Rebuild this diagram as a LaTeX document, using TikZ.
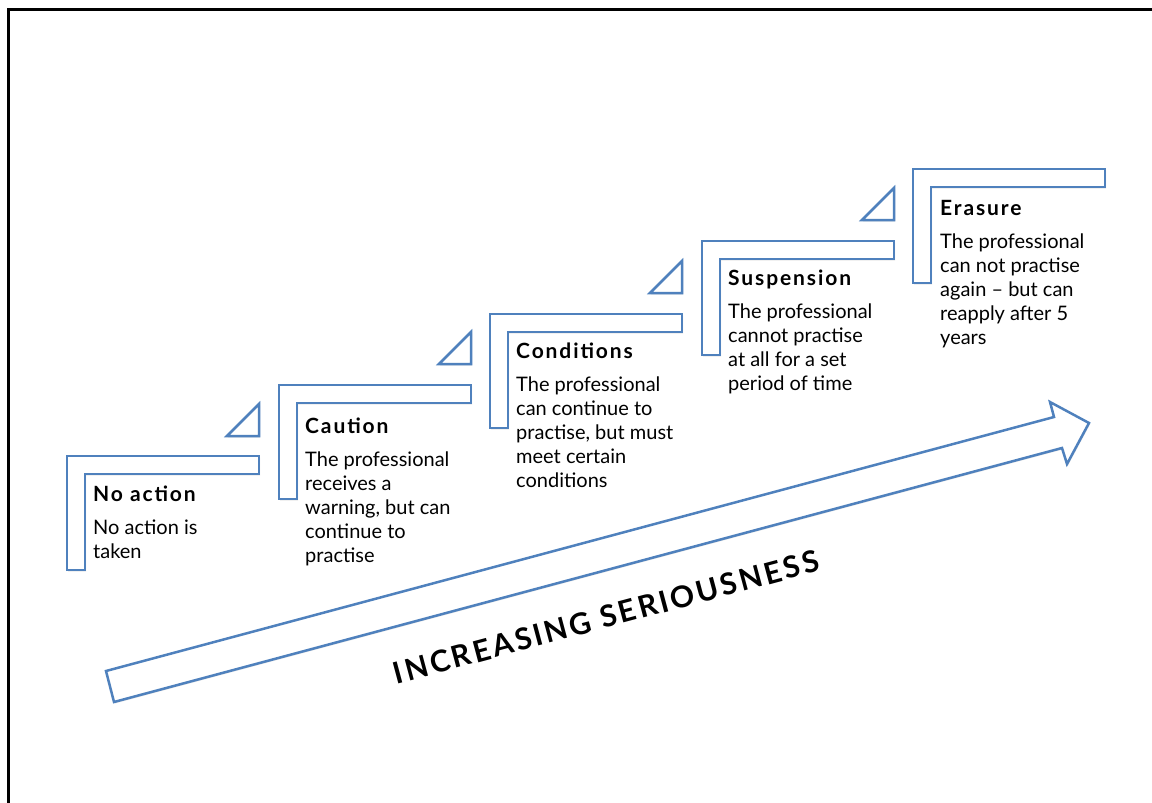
\documentclass[tikz,border=0pt]{standalone}
\usepackage{fontspec}
\setmainfont{Lato}
\usetikzlibrary{positioning,shadows}

\definecolor{stepblue}{RGB}{79,129,189}

\tikzset{
    stepline/.style = {draw = stepblue, fill = white, line width = 2.5pt, line join = miter,
                       drop shadow = {opacity = 0.18, shadow xshift = 1pt, shadow yshift = -1.5pt}},
    steptitle/.style = {font = \fontsize{21}{24}\selectfont\bfseries\addfontfeature{LetterSpace=9},
                        inner sep = 0pt, anchor = base west},
    stepbody/.style = {font = \fontsize{20}{24}\selectfont, align = left, inner sep = 0pt}
}

\begin{document}
\begin{tikzpicture} [x = 1pt, y = -1pt]
        \clip (0,0) rectangle (1152,803);
        \draw [line width = 3pt] (8,830) -- (8,9) -- (1180,9);

        % the big arrow
        \draw [stepline] (106,671) -- (1054,417) -- (1050,402) -- (1089,423)
            -- (1067,464) -- (1062,448) -- (114,702) -- cycle;
        \node [rotate = 15, inner sep = 0pt,
               font = \fontsize{30}{30}\selectfont\bfseries\addfontfeature{LetterSpace=9}]
            (serious) at (606,617) {INCREASING SERIOUSNESS};

        % steps
        \coordinate (s1) at (67,456);
        \coordinate (s2) at (279,385);
        \coordinate (s3) at (490,314);
        \coordinate (s4) at (702,241);
        \coordinate (s5) at (913,169);

        \draw [stepline] (s1) -- ++(192,0) -- ++(0,18) -- ++(-174,0) -- ++(0,96) -- ++(-18,0) -- cycle;
        \draw [stepline] (s2) -- ++(192,0) -- ++(0,18) -- ++(-174,0) -- ++(0,96) -- ++(-18,0) -- cycle;
        \draw [stepline] (s3) -- ++(192,0) -- ++(0,18) -- ++(-174,0) -- ++(0,96) -- ++(-18,0) -- cycle;
        \draw [stepline] (s4) -- ++(192,0) -- ++(0,18) -- ++(-174,0) -- ++(0,96) -- ++(-18,0) -- cycle;
        \draw [stepline] (s5) -- ++(192,0) -- ++(0,18) -- ++(-174,0) -- ++(0,96) -- ++(-18,0) -- cycle;

        \draw [stepline] (s1) ++(192,-20) -- ++(-32,0) -- ++(32,-32) -- cycle;
        \draw [stepline] (s2) ++(192,-21) -- ++(-32,0) -- ++(32,-32) -- cycle;
        \draw [stepline] (s3) ++(192,-21) -- ++(-32,0) -- ++(32,-32) -- cycle;
        \draw [stepline] (s4) ++(192,-21) -- ++(-32,0) -- ++(32,-32) -- cycle;

        % labels
        \node [steptitle] (t1) at (93,501) {No action};
        \node [steptitle] (t2) at (305,433) {Caution};
        \node [steptitle] (t3) at (516,358) {Conditions};
        \node [steptitle] (t4) at (728,285) {Suspension};
        \node [steptitle] (t5) at (940,215) {Erasure};

        \node [stepbody] (d1) [below right = 16pt and 0pt of t1.base west]
            {\strut No action is\\taken};
        \node [stepbody] (d2) [below right = 16pt and 0pt of t2.base west]
            {\strut The professional\\receives a\\warning, but can\\continue to\\practise};
        \node [stepbody] (d3) [below right = 16pt and 0pt of t3.base west]
            {\strut The professional\\can continue to\\practise, but must\\meet certain\\conditions};
        \node [stepbody] (d4) [below right = 16pt and 0pt of t4.base west]
            {\strut The professional\\cannot practise\\at all for a set\\period of time};
        \node [stepbody] (d5) [below right = 16pt and 0pt of t5.base west]
            {\strut The professional\\can not practise\\again -- but can\\reapply after 5\\years};

    \end{tikzpicture}
\end{document}
